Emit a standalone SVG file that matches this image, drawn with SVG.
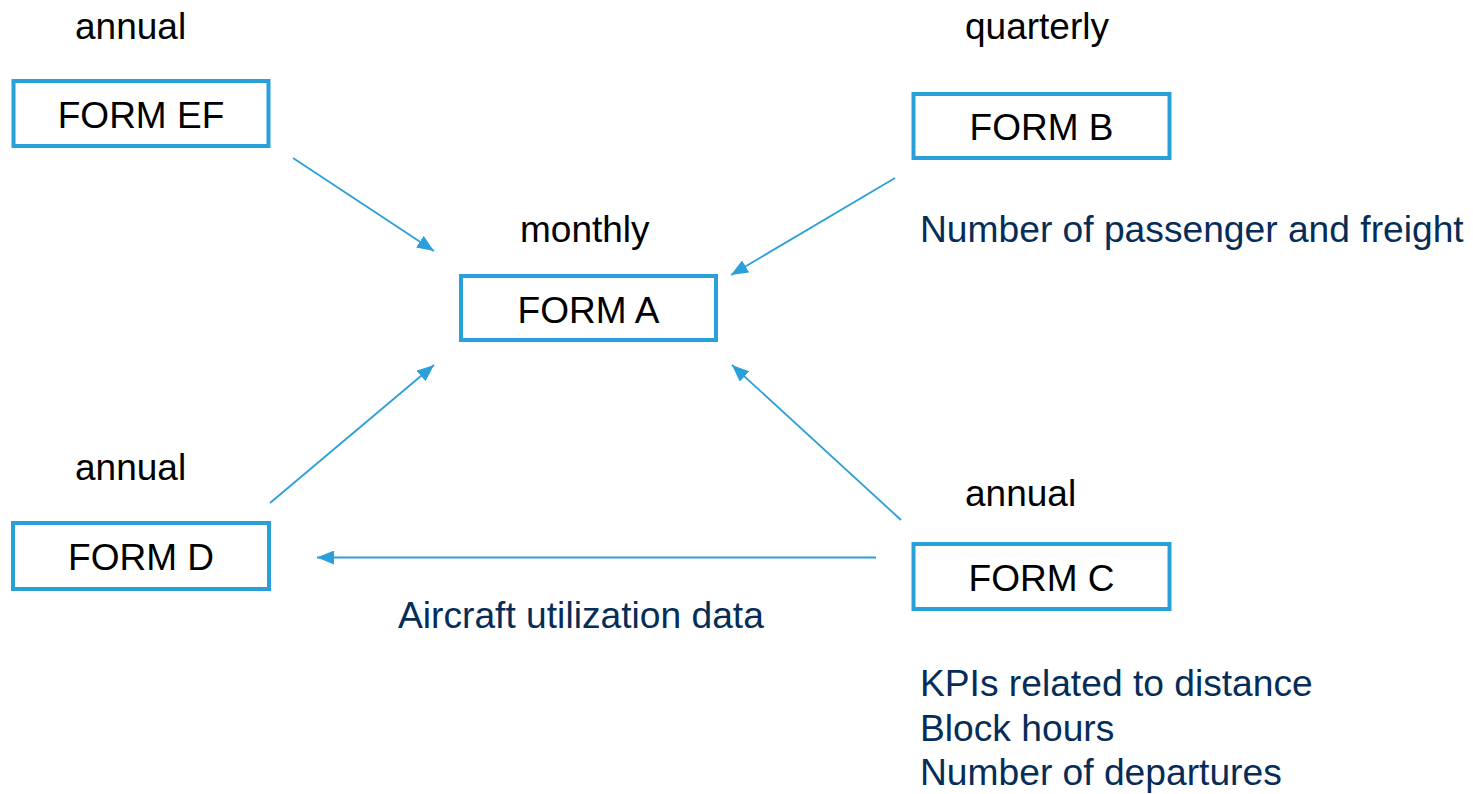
<svg xmlns="http://www.w3.org/2000/svg" width="1473" height="794" viewBox="0 0 1473 794">
<defs>
<style>
.box{fill:#fff;stroke:#2B9FD9;stroke-width:4}
.lbl{font-family:"Liberation Sans",Arial,sans-serif;font-size:37px;fill:#000}
.c{text-anchor:middle}
.note{font-family:"Liberation Sans",Arial,sans-serif;font-size:37.2px;fill:#062D57}
.conn{stroke:#2B9FD9;stroke-width:1.8;fill:none;marker-end:url(#ah)}
</style>
<marker id="ah" markerUnits="userSpaceOnUse" markerWidth="18" markerHeight="14" refX="17" refY="7" orient="auto">
<path d="M0,0 L17,7 L0,14 Z" fill="#2B9FD9"/>
</marker>
</defs>
<rect width="1473" height="794" fill="#fff"/>
<g id="form-ef">
<text class="lbl" x="75" y="39">annual</text>
<rect class="box" x="13.5" y="81" width="255" height="65"/>
<text class="lbl c" x="141" y="128">FORM EF</text>
</g>
<g id="form-b">
<text class="lbl" x="965" y="39">quarterly</text>
<rect class="box" x="913.5" y="94" width="256" height="64"/>
<text class="lbl c" x="1041.5" y="140">FORM B</text>
<text class="note" x="920" y="242">Number of passenger and freight</text>
</g>
<g id="form-a">
<text class="lbl" x="520" y="242">monthly</text>
<rect class="box" x="461" y="276" width="255" height="64"/>
<text class="lbl c" x="588.5" y="323">FORM A</text>
</g>
<g id="form-d">
<text class="lbl" x="75" y="480">annual</text>
<rect class="box" x="13" y="523" width="256" height="66"/>
<text class="lbl c" x="141" y="570">FORM D</text>
</g>
<g id="form-c">
<text class="lbl" x="965" y="506">annual</text>
<rect class="box" x="913.5" y="544" width="256" height="65"/>
<text class="lbl c" x="1041.5" y="591">FORM C</text>
<text class="note" x="920" y="696">KPIs related to distance</text>
<text class="note" x="920" y="741">Block hours</text>
<text class="note" x="920" y="785">Number of departures</text>
</g>
<g id="connectors">
<line class="conn" x1="293" y1="158" x2="434" y2="251"/>
<line class="conn" x1="895" y1="178" x2="731" y2="275"/>
<line class="conn" x1="270" y1="503" x2="434" y2="365"/>
<line class="conn" x1="901" y1="520" x2="732" y2="365"/>
<line class="conn" x1="876" y1="557.5" x2="317" y2="557.5"/>
<text class="note" x="398" y="628">Aircraft utilization data</text>
</g>
</svg>
